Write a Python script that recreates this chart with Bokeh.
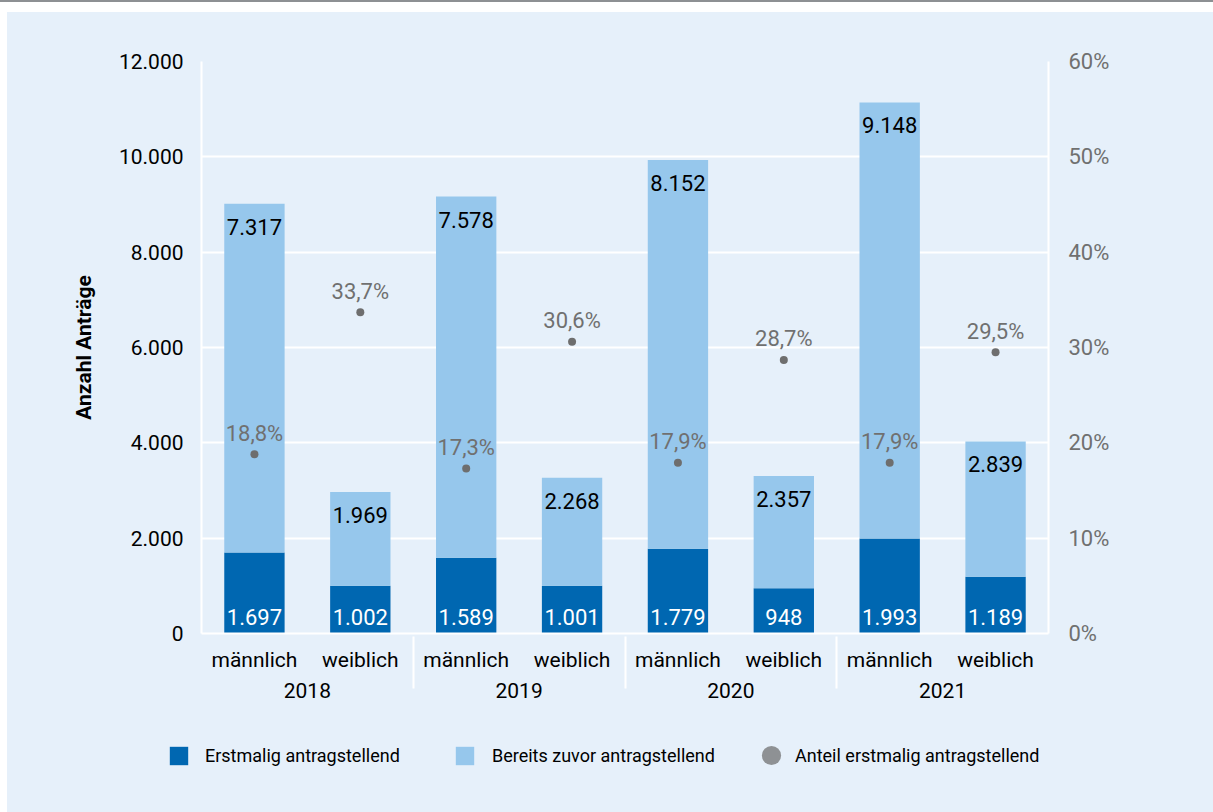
from bokeh.plotting import figure
from bokeh.models import (ColumnDataSource, FactorRange, Range1d, LinearAxis, Legend,
                          LegendItem, Div, FixedTicker)
from bokeh.layouts import column
from bokeh.embed import file_html
from bokeh.resources import INLINE
from bokeh.core.properties import value

# ---- data ----
years = ["2018", "2019", "2020", "2021"]
sexes = ["männlich", "weiblich"]
erstmalig = [1697, 1002, 1589, 1001, 1779, 948, 1993, 1189]
bereits = [7317, 1969, 7578, 2268, 8152, 2357, 9148, 2839]
anteil = [18.8, 33.7, 17.3, 30.6, 17.9, 28.7, 17.9, 29.5]
left_ticks = [0, 2000, 4000, 6000, 8000, 10000, 12000]
right_ticks = [0, 10, 20, 30, 40, 50, 60]
series_names = ["Erstmalig antragstellend", "Bereits zuvor antragstellend",
                "Anteil erstmalig antragstellend"]
y_title = "Anzahl Anträge"

# ---- style ----
FONT = "Roboto"
BG = "#e6f0fa"
DARK = "#0067b1"
LIGHT = "#96c7ec"
DOT = "#6e6e6e"
GREYTXT = "#707070"


def de(n):
    return f"{n:,}".replace(",", ".")


factors = [(y, s) for y in years for s in sexes]
total = [e + b for e, b in zip(erstmalig, bereits)]
src = ColumnDataSource(dict(
    x=factors, e=erstmalig, b=bereits, t=total, pct=anteil,
    e_lbl=[de(v) for v in erstmalig],
    b_lbl=[de(v) for v in bereits],
    p_lbl=[f"{v:.1f}%".replace(".", ",") for v in anteil],
))

p = figure(
    x_range=FactorRange(*factors, factor_padding=0, group_padding=0, range_padding=0),
    y_range=Range1d(0, 12000),
    width=1206, height=710,
    min_border_left=194, min_border_right=165, min_border_top=49, min_border_bottom=89,
    output_backend="svg", toolbar_location=None,
    background_fill_color=BG, border_fill_color=BG, outline_line_color=None,
)
p.margin = 0
p.frame_align = False
p.extra_y_ranges = {"pct": Range1d(0, 60)}

bars = p.vbar_stack(["e", "b"], x="x", width=0.57, color=[DARK, LIGHT],
                    line_color=None, source=src)

p.text(x="x", y=0, text="e_lbl", source=src, y_offset=-17, text_align="center",
       text_baseline="middle", text_color="white", text_font=value(FONT),
       text_font_size="22px")
p.text(x="x", y="t", text="b_lbl", source=src, y_offset=23, text_align="center",
       text_baseline="middle", text_color="black", text_font=value(FONT),
       text_font_size="22px")

p.scatter(x="x", y="pct", y_range_name="pct", source=src, size=8, color=DOT,
          line_color=None)
p.text(x="x", y="pct", y_range_name="pct", text="p_lbl", source=src, y_offset=-21,
       text_align="center", text_baseline="middle", text_color=GREYTXT,
       text_font=value(FONT), text_font_size="22px")

# grid / axes
p.xgrid.grid_line_color = None
p.ygrid.grid_line_color = "white"
p.ygrid.grid_line_width = 2
p.ygrid.ticker = FixedTicker(ticks=left_ticks)

ya = p.yaxis[0]
ya.ticker = FixedTicker(ticks=left_ticks)
ya.major_label_overrides = {t: de(t) for t in left_ticks}
ya.axis_line_color = "white"
ya.axis_line_width = 2
ya.major_tick_line_color = None
ya.minor_tick_line_color = None
ya.major_label_standoff = 12
ya.major_label_text_font = FONT
ya.major_label_text_font_size = "21px"
ya.major_label_text_color = "black"
ya.axis_label = y_title
ya.axis_label_text_font = FONT
ya.axis_label_text_font_size = "21px"
ya.axis_label_text_font_style = "bold"
ya.axis_label_text_color = "black"
ya.axis_label_standoff = 20

ra = LinearAxis(y_range_name="pct", ticker=FixedTicker(ticks=right_ticks),
                major_label_overrides={t: f"{t}%" for t in right_ticks})
ra.axis_line_color = "white"
ra.axis_line_width = 2
ra.major_tick_line_color = None
ra.minor_tick_line_color = None
ra.major_label_standoff = 14
ra.major_label_text_font = FONT
ra.major_label_text_font_size = "22px"
ra.major_label_text_color = GREYTXT
p.add_layout(ra, "right")

xa = p.xaxis[0]
xa.axis_line_color = "white"
xa.axis_line_width = 2
xa.major_tick_line_color = None
xa.minor_tick_line_color = None
xa.major_label_standoff = 8
xa.major_label_text_font = FONT
xa.major_label_text_font_size = "21px"
xa.major_label_text_color = "black"
xa.group_text_font = FONT
xa.group_text_font_size = "21px"
xa.group_text_color = "black"
xa.group_text_font_style = "normal"
xa.separator_line_color = "white"
xa.separator_line_width = 2

# ---- legend strip: separate figure; its swatch renderers lie far outside its ranges ----
lg = figure(width=1206, height=90, x_range=Range1d(-1000, -999),
            y_range=Range1d(-1000, -999),
            min_border=0, min_border_left=0, min_border_right=0, min_border_top=0,
            min_border_bottom=0, output_backend="svg", toolbar_location=None,
            background_fill_color=BG, border_fill_color=BG, outline_line_color=None,
            x_axis_location=None, y_axis_location=None)
lg.margin = 0
lg.frame_align = False
lg.grid.grid_line_color = None
r_dark = lg.vbar(x="pct", top="pct", bottom="pct", width=0.5, source=src, color=DARK,
                 line_color=None)
r_light = lg.vbar(x="pct", top="pct", bottom="pct", width=0.5, source=src, color=LIGHT,
                  line_color=None)
r_dot = lg.scatter(x="pct", y="pct", source=src, size=19, color="#8e9194",
                   line_color=None)


def make_legend(item_label, renderer, loc, gw, gh, standoff):
    leg = Legend(items=[LegendItem(label=item_label, renderers=[renderer])],
                 location=loc, orientation="horizontal", padding=0, margin=0,
                 border_line_color=None, background_fill_alpha=0,
                 glyph_width=gw, glyph_height=gh, label_standoff=standoff,
                 label_text_font=FONT, label_text_font_size="18px",
                 label_text_color="black")
    lg.add_layout(leg, "center")


make_legend(series_names[0], r_dark, (160, 45), 23, 23, 15)
make_legend(series_names[1], r_light, (446, 45), 23, 23, 16)
make_legend(series_names[2], r_dot, (740, 33), 48, 48, -2)

panel = column(p, lg, spacing=0, margin=(10, 0, 0, 7),
               styles={"background-color": BG})
top_line = Div(text="", width=1213, height=2, margin=0,
               styles={"background-color": "#8d9093"})
layout = column(top_line, panel, spacing=0)

open("out.html", "w").write(file_html(layout, INLINE))
